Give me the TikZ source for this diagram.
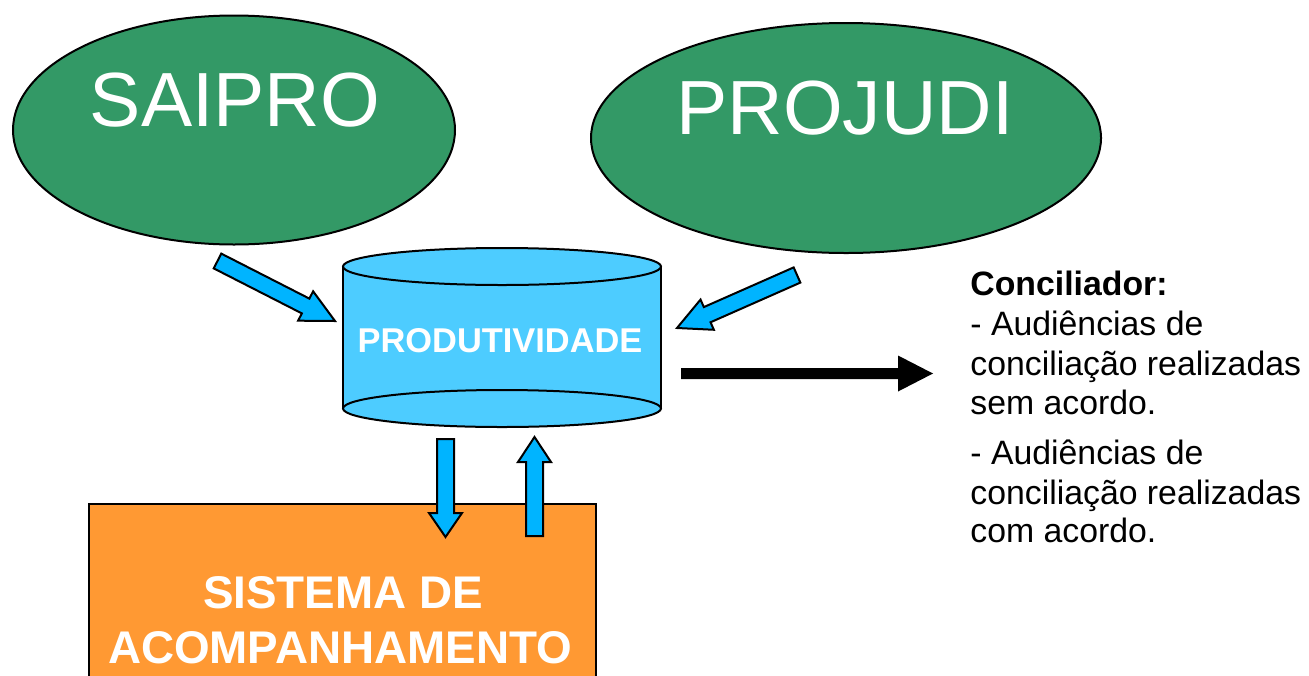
\documentclass[tikz,border=0pt]{standalone}
\usepackage{fontspec}
\setmainfont{Liberation Sans}
\usetikzlibrary{calc,shapes.geometric}
\definecolor{ellgreen}{RGB}{51,153,102}
\definecolor{cylblue}{RGB}{77,204,255}
\definecolor{arrblue}{RGB}{0,180,255}
\definecolor{boxorange}{RGB}{255,153,51}
\newcommand\myblockarrow[6]{%
  \path[#1] ($(#2)!#4!90:(#3)$) -- ($($(#3)!#6!(#2)$)!#4!90:(#3)$) -- ($($(#3)!#6!(#2)$)!#5!90:(#3)$) -- (#3)
   -- ($($(#3)!#6!(#2)$)!#5!-90:(#3)$) -- ($($(#3)!#6!(#2)$)!#4!-90:(#3)$) -- ($(#2)!#4!-90:(#3)$) -- cycle;}
\tikzset{
  bigell/.style={ellipse, draw=black, line width=1pt, fill=ellgreen, inner sep=0pt},
  elltext/.style={text=white, font=\fontsize{38.4}{46}\selectfont},
  bluearrow/.style={draw=black, line width=1pt, fill=arrblue, line join=miter},
  blackarrow/.style={fill=black},
  sidetext/.style={anchor=base west, inner sep=0pt, font=\fontsize{16.9}{20}\selectfont},
  boxtext/.style={text=white, font=\bfseries\fontsize{22.9}{27.5}\selectfont, inner sep=0pt}
}
\begin{document}
\begin{tikzpicture}[x=0.5pt,y=-0.5pt]
\useasboundingbox (0,0) rectangle (1309,675);
% ellipses
\node[bigell, minimum width=221pt, minimum height=114.5pt] (saipro) at (234,130) {};
\node[elltext, inner sep=0pt] (saiprot) at (235,100) {SAIPRO};
\node[bigell, minimum width=255pt, minimum height=115pt] (projudi) at (846,138) {};
\node[elltext, inner sep=0pt] (projudit) at (845,108) {PROJUDI};
% cylinder
\fill[cylblue] (343,266.5) rectangle (661,408.5);
\draw[line width=1pt, fill=cylblue] (502,408.5) ellipse [x radius=159, y radius=18.5];
\draw[line width=1pt] (343,266.5) -- (343,408.5) (661,266.5) -- (661,408.5);
\draw[line width=1pt, fill=cylblue] (502,266.5) ellipse [x radius=159, y radius=18.5];
\node[text=white, font=\bfseries\fontsize{17.2}{20}\selectfont, inner sep=0pt] (prod) at (500,341) {PRODUTIVIDADE};
% box
\draw[line width=1pt, fill=boxorange] (89,690) -- (89,504) -- (596,504) -- (596,690);
\node[boxtext] (sist1) at (343,593) {SISTEMA DE};
\node[boxtext] (sist2) at (340,648) {ACOMPANHAMENTO};
% arrows
\coordinate (a1s) at (217.5,261); \coordinate (a1e) at (335,321);
\coordinate (a2s) at (797,275);   \coordinate (a2e) at (677,328);
\coordinate (a3s) at (445.5,439); \coordinate (a3e) at (445.5,537);
\coordinate (a4s) at (534.5,536); \coordinate (a4e) at (534.5,437);
\coordinate (a5s) at (681,373.5); \coordinate (a5e) at (933,373.5);
\myblockarrow{bluearrow}{a1s}{a1e}{4.15pt}{8.25pt}{16.5pt}
\myblockarrow{bluearrow}{a2s}{a2e}{4.15pt}{8.25pt}{16.5pt}
\myblockarrow{bluearrow}{a3s}{a3e}{4.25pt}{8.25pt}{12pt}
\myblockarrow{bluearrow}{a4s}{a4e}{4.25pt}{8.25pt}{12.5pt}
\myblockarrow{blackarrow}{a5s}{a5e}{2.75pt}{9pt}{17.5pt}
% side text
\node[sidetext, font=\bfseries\fontsize{16.9}{20}\selectfont] (t1) at (970,295) {Conciliador:};
\node[sidetext] (t2) at (970,335) {- Audiências de};
\node[sidetext] (t3) at (970,375) {conciliação realizadas};
\node[sidetext] (t4) at (970,414) {sem acordo.};
\node[sidetext] (t5) at (970,464) {- Audiências de};
\node[sidetext] (t6) at (970,504) {conciliação realizadas};
\node[sidetext] (t7) at (970,542) {com acordo.};
\end{tikzpicture}
\end{document}
